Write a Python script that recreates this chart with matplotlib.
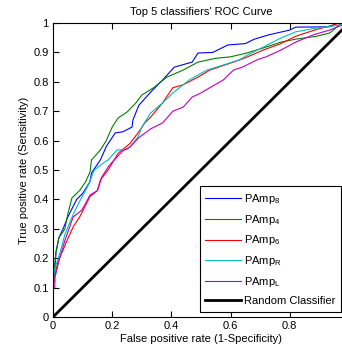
import matplotlib
matplotlib.use("Agg")
import matplotlib.pyplot as plt

plt.rcParams['font.family'] = ['Liberation Sans', 'DejaVu Sans']
plt.rcParams['mathtext.fontset'] = 'custom'
plt.rcParams['mathtext.rm'] = 'Liberation Sans'
plt.rcParams['mathtext.it'] = 'Liberation Sans'

# ROC points (fpr, tpr)
fpr_8 = [0, 0.005, 0.01, 0.02, 0.034, 0.05, 0.065, 0.08, 0.10, 0.125, 0.13, 0.16, 0.18, 0.21,
         0.236, 0.267, 0.27, 0.29, 0.33, 0.37, 0.41, 0.47, 0.49, 0.54, 0.59, 0.65, 0.68, 0.73,
         0.80, 0.82, 0.935, 0.96, 1.0]
tpr_8 = [0.10, 0.15, 0.22, 0.27, 0.30, 0.34, 0.37, 0.40, 0.42, 0.46, 0.49, 0.534, 0.58, 0.626,
         0.63, 0.646, 0.67, 0.72, 0.765, 0.806, 0.85, 0.867, 0.898, 0.90, 0.925, 0.93, 0.945, 0.96,
         0.976, 0.986, 0.987, 1.0, 1.0]

fpr_4 = [0, 0.005, 0.01, 0.02, 0.034, 0.04, 0.05, 0.064, 0.09, 0.11, 0.125, 0.13, 0.16, 0.18,
         0.20, 0.22, 0.25, 0.28, 0.30, 0.34, 0.385, 0.44, 0.49, 0.55, 0.60, 0.655, 0.71, 0.77,
         0.82, 0.89, 0.935, 0.975, 1.0]
tpr_4 = [0.10, 0.16, 0.22, 0.27, 0.29, 0.30, 0.35, 0.405, 0.43, 0.46, 0.493, 0.534, 0.568, 0.60,
         0.646, 0.677, 0.697, 0.728, 0.755, 0.78, 0.816, 0.84, 0.867, 0.88, 0.885, 0.898, 0.915,
         0.935, 0.945, 0.955, 0.966, 1.0, 1.0]

fpr_6 = [0, 0.005, 0.017, 0.034, 0.047, 0.07, 0.09, 0.125, 0.15, 0.16, 0.186, 0.22, 0.26, 0.29,
         0.31, 0.33, 0.37, 0.405, 0.44, 0.49, 0.53, 0.56, 0.63, 0.655, 0.71, 0.77, 0.82, 0.89,
         0.935, 0.97, 1.0]
tpr_6 = [0.10, 0.136, 0.19, 0.228, 0.26, 0.31, 0.34, 0.41, 0.43, 0.466, 0.50, 0.557, 0.59, 0.63,
         0.66, 0.68, 0.728, 0.78, 0.79, 0.816, 0.84, 0.85, 0.874, 0.884, 0.908, 0.93, 0.955, 0.978,
         0.99, 1.0, 1.0]

fpr_R = [0, 0.005, 0.024, 0.04, 0.06, 0.08, 0.12, 0.13, 0.14, 0.17, 0.186, 0.20, 0.216, 0.25,
         0.26, 0.287, 0.30, 0.33, 0.37, 0.405, 0.46, 0.52, 0.575, 0.63, 0.655, 0.71, 0.77, 0.82,
         0.89, 0.95, 1.0]
tpr_R = [0.10, 0.16, 0.22, 0.28, 0.33, 0.374, 0.45, 0.476, 0.50, 0.524, 0.534, 0.55, 0.568, 0.57,
         0.578, 0.612, 0.646, 0.694, 0.728, 0.762, 0.806, 0.84, 0.857, 0.875, 0.89, 0.918, 0.949,
         0.97, 0.983, 0.99, 1.0]

fpr_L = [0, 0.006, 0.007, 0.02, 0.04, 0.068, 0.098, 0.125, 0.15, 0.165, 0.186, 0.20, 0.236, 0.26,
         0.29, 0.33, 0.37, 0.405, 0.44, 0.47, 0.50, 0.53, 0.575, 0.61, 0.64, 0.69, 0.72, 0.77,
         0.82, 0.88, 0.935, 0.97, 1.0]
tpr_L = [0.10, 0.10, 0.136, 0.19, 0.26, 0.34, 0.364, 0.415, 0.43, 0.476, 0.51, 0.527, 0.565, 0.578,
         0.61, 0.64, 0.66, 0.70, 0.714, 0.748, 0.762, 0.78, 0.806, 0.84, 0.85, 0.875, 0.885, 0.908,
         0.935, 0.96, 0.976, 0.99, 1.0]

labels = ['PAmp$_8$', 'PAmp$_4$', 'PAmp$_6$', 'PAmp$_R$', 'PAmp$_L$', 'Random Classifier']
colors = ['#0000ff', '#008000', '#ff0000', '#00bfbf', '#bf00bf']
xticks = [0, 0.2, 0.4, 0.6, 0.8]
yticks = [0, 0.1, 0.2, 0.3, 0.4, 0.5, 0.6, 0.7, 0.8, 0.9, 1]

fig = plt.figure(figsize=(3.42, 3.5), dpi=100)
ax = fig.add_axes([53/342, 33/350, 296/342, 294/350])

curves = [(fpr_8, tpr_8), (fpr_4, tpr_4), (fpr_6, tpr_6), (fpr_R, tpr_R), (fpr_L, tpr_L)]
for (x, y), c, lab in zip(curves, colors, labels):
    ax.plot(x, y, color=c, linewidth=0.8, label=lab)
ax.plot([0, 1], [0, 1], color='black', linewidth=2, label=labels[-1])

ax.set_xlim(0, 1)
ax.set_ylim(0, 1)
ax.set_xticks(xticks)
ax.set_xticklabels(['0', '0.2', '0.4', '0.6', '0.8'])
ax.set_yticks(yticks)
ax.set_yticklabels(['0', '0.1', '0.2', '0.3', '0.4', '0.5', '0.6', '0.7', '0.8', '0.9', '1'])
ax.tick_params(direction='in', top=True, right=True, labelsize=8, length=4, pad=3)

ax.set_title("Top 5 classifiers' ROC Curve", fontsize=8, pad=6)
ax.set_xlabel('False positive rate (1-Specificity)', fontsize=8, labelpad=2)
ax.set_ylabel('True positive rate (Sensitivity)', fontsize=8, labelpad=3)

leg = ax.legend(loc='lower right', bbox_to_anchor=(0.973, 0.018), borderaxespad=0,
                fontsize=8, fancybox=False, edgecolor='black', framealpha=1,
                handlelength=3.2, labelspacing=0.62, borderpad=0.5, handletextpad=0.3)
leg.get_frame().set_linewidth(0.8)

fig.savefig('out.png', dpi=100)
